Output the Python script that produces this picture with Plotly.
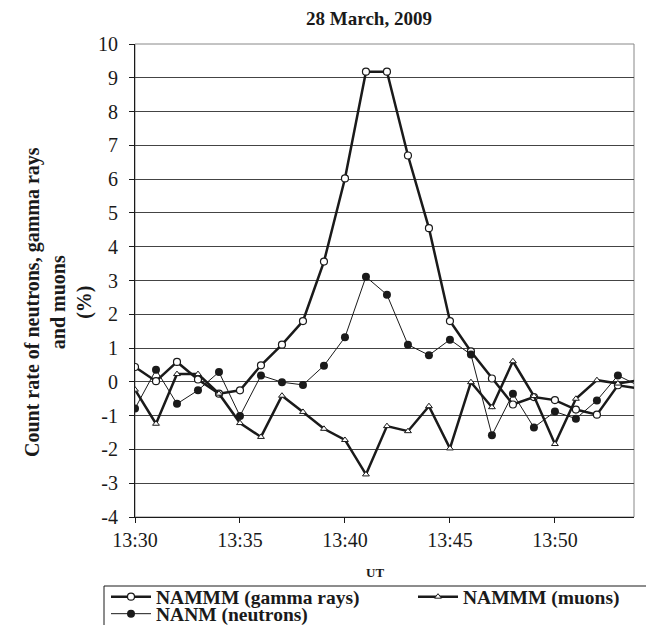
import plotly.graph_objects as go

minutes = list(range(0, 25))
times = [f"2009-03-28 13:{30 + m:02d}" for m in minutes]

gamma = [0.44, 0.02, 0.59, 0.07, -0.35, -0.25, 0.49, 1.10, 1.80, 3.56, 6.02, 9.18, 9.18,
         6.70, 4.55, 1.80, 0.90, 0.10, -0.67, -0.45, -0.54, -0.82, -0.97, -0.10, -0.20]
muons = [-0.23, -1.24, 0.23, 0.23, -0.35, -1.22, -1.63, -0.41, -0.89, -1.39, -1.72, -2.74, -1.31,
         -1.46, -0.72, -1.97, -0.01, -0.75, 0.61, -0.42, -1.84, -0.50, 0.05, -0.05, 0.05]
neutrons = [-0.79, 0.36, -0.65, -0.25, 0.29, -1.01, 0.19, -0.01, -0.09, 0.48, 1.32, 3.11, 2.58,
            1.10, 0.79, 1.25, 0.81, -1.58, -0.35, -1.35, -0.88, -1.09, -0.55, 0.19, -0.12]

y_tick_vals = list(range(-4, 11))
y_tick_text = [str(v) for v in y_tick_vals]

title_text = "28 March, 2009"
y_title = "Count rate of neutrons, gamma rays<br>and muons<br>(%)"
x_title = "UT"

FONT = "Liberation Serif"
INK = "#1a1a1a"
W, H = 654, 625
ML, MR, MT, MB = 127, 28, 36, 116
PW, PH = W - ML - MR, H - MT - MB


def px_x(x):
    return (x - ML) / PW


def px_y(y):
    return (H - MB - y) / PH


fig = go.Figure()
fig.add_trace(go.Scatter(
    x=times, y=gamma, name="<b>NAMMM (gamma rays)</b>", mode="lines+markers",
    line=dict(color=INK, width=2.5), legend="legend",
    marker=dict(symbol="circle", size=7, color="white", line=dict(color=INK, width=1.2)),
))
fig.add_trace(go.Scatter(
    x=times, y=muons, name="<b>NAMMM (muons)</b>", mode="lines+markers",
    line=dict(color=INK, width=2.5), legend="legend",
    marker=dict(symbol="triangle-up", size=6, color="white", line=dict(color=INK, width=1)),
))
fig.add_trace(go.Scatter(
    x=times, y=neutrons, name="<b>NANM (neutrons)</b>", mode="lines+markers",
    line=dict(color=INK, width=1), legend="legend2",
    marker=dict(symbol="circle", size=8, color=INK),
))

legend_common = dict(orientation="h", xanchor="left", yanchor="middle",
                     borderwidth=0, bgcolor="rgba(0,0,0,0)",
                     font=dict(size=19.5, family=FONT),
                     entrywidth=252, tracegroupgap=0, itemwidth=40)

fig.update_layout(
    width=W, height=H,
    margin=dict(l=ML, r=MR, t=MT, b=MB, autoexpand=False),
    paper_bgcolor="white", plot_bgcolor="white",
    font=dict(family=FONT, color=INK, size=20),
    title=dict(text=f"<b>{title_text}</b>", x=361 / W, xanchor="center",
               y=1 - 10 / H, yanchor="middle", font=dict(size=19, family=FONT)),
    showlegend=True,
    legend=dict(x=px_x(98), y=px_y(589), **legend_common),
    legend2=dict(x=px_x(98), y=px_y(606), **legend_common),
)
fig.update_xaxes(
    type="date", range=["2009-03-28 13:30", "2009-03-28 13:53:46"],
    tickformat="%H:%M", dtick=300000, tick0="2009-03-28 13:30",
    showgrid=False, showline=True, linecolor=INK, linewidth=1,
    ticks="outside", ticklen=5, tickcolor=INK,
    tickfont=dict(size=20, family=FONT),
    zeroline=False,
)
fig.update_yaxes(
    range=[-4, 10], tickvals=y_tick_vals, ticktext=y_tick_text,
    showgrid=True, gridcolor="#444444", gridwidth=1,
    showline=True, linecolor=INK, linewidth=1,
    ticks="outside", ticklen=5, tickcolor=INK, ticklabelstandoff=7,
    tickfont=dict(size=20, family=FONT),
    zeroline=False,
)
# gray top/right frame
fig.add_shape(type="rect", xref="paper", yref="paper", x0=0, y0=0, x1=1, y1=1,
              line=dict(color="#888888", width=1), layer="below")
# legend frame (runs off the bottom edge as in the reference)
fig.add_shape(type="rect", xref="paper", yref="paper",
              x0=px_x(96), x1=px_x(644), y0=px_y(660), y1=px_y(578),
              line=dict(color=INK, width=1), fillcolor="rgba(0,0,0,0)", layer="above")

# axis titles
fig.add_annotation(text=f"<b>{y_title}</b>", xref="paper", yref="paper",
                   x=px_x(50), y=px_y(294), xanchor="center", yanchor="middle",
                   textangle=-90, showarrow=False, font=dict(size=20, family=FONT), align="center")
fig.add_annotation(text=f"<b>{x_title}</b>", xref="paper", yref="paper",
                   x=px_x(367), y=px_y(564), xanchor="center", yanchor="middle",
                   showarrow=False, font=dict(size=13, family=FONT))

fig.write_html("out.html")
